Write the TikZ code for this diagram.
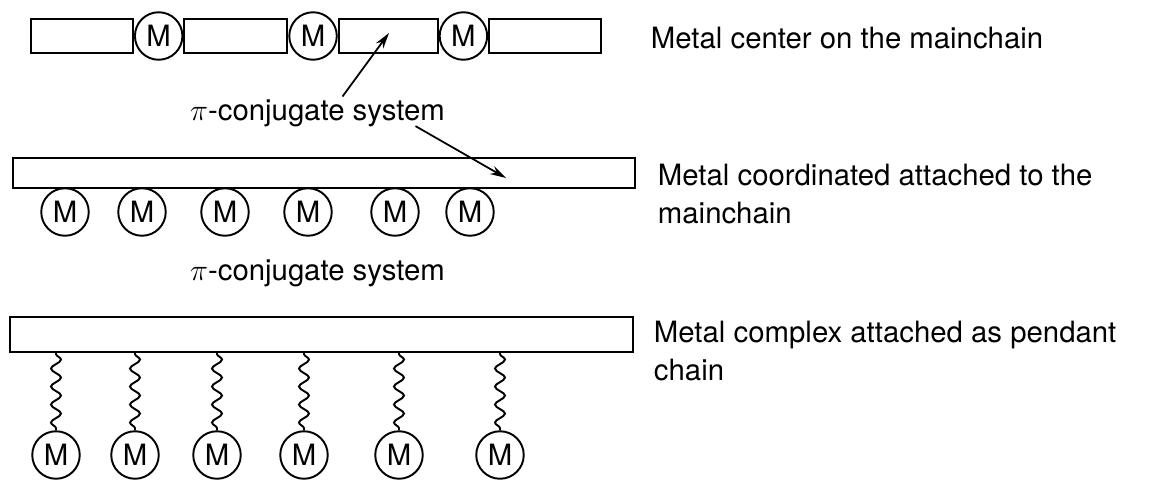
\documentclass[tikz,border=0pt]{standalone}
\usepackage{fontspec}
\setmainfont{TeX Gyre Heros}
\usetikzlibrary{positioning}
\usetikzlibrary{arrows.meta}
\usetikzlibrary{decorations.pathmorphing}

\begin{document}
\begin{tikzpicture}[line width=1.1pt,
    every node/.style={font=\fontsize{16.7}{21.6}\selectfont},
    seg/.style={draw, rectangle, minimum height=0.68cm, inner sep=0pt},
    bar/.style={draw, rectangle, inner sep=0pt},
    metal/.style={draw, circle, minimum size=0.95cm, inner sep=0pt},
    wavy/.style={decorate, decoration={snake, amplitude=0.1cm, segment length=0.36cm, pre length=0.02cm, post length=0.02cm}},
    remark/.style={anchor=north west, align=left, inner sep=0pt},
    pointer/.style={-{Stealth[length=3.2mm, width=1.8mm]}}]
      \useasboundingbox (0,0) rectangle (23.46,9.6);

      % metal in the main chain
      \node[seg, minimum width=2.04cm] (seg1) at (1.64,8.88) {};
      \node[metal, right=0pt of seg1] (mt1) {M};
      \node[seg, minimum width=2.06cm, right=0pt of mt1] (seg2) {};
      \node[metal, right=0pt of seg2] (mt2) {M};
      \node[seg, minimum width=1.98cm, right=0pt of mt2] (seg3) {};
      \node[metal, right=0pt of seg3] (mt3) {M};
      \node[seg, minimum width=2.24cm, right=0pt of mt3] (seg4) {};
      \node[remark] (lab1) at (13.0,9.07) {Metal center on the mainchain};

      \node[anchor=base, inner sep=1pt] (pi1) at (6.35,7.2) {$\pi$-conjugate system};
      \coordinate (tip1) at (7.78,8.94);
      \coordinate (tip2) at (10.12,6.04);
      \draw[pointer, line width=1pt] ([xshift=3.1cm]pi1.north west) -- (tip1);
      \draw[pointer, line width=1pt] ([xshift=-0.64cm,yshift=0.06cm]pi1.south east) -- (tip2);

      % metal next to the main chain
      \node[bar, minimum width=12.44cm, minimum height=0.6cm] (chain) at (6.48,6.14) {};
      \node[metal] (mc1) at (1.3,5.36) {M};
      \node[metal] (mc2) at (2.84,5.36) {M};
      \node[metal] (mc3) at (4.5,5.36) {M};
      \node[metal] (mc4) at (6.16,5.36) {M};
      \node[metal] (mc5) at (7.9,5.36) {M};
      \node[metal] (mc6) at (9.4,5.36) {M};
      \node[remark] (lab2) at (13.14,6.34) {Metal coordinated attached to the\\ mainchain};

      \node[anchor=base, inner sep=1pt] (pi2) at (6.35,4.0) {$\pi$-conjugate system};

      % pendant metal complexes
      \node[bar, minimum width=12.46cm, minimum height=0.7cm] (backbone) at (6.43,2.91) {};
      \node[metal] (mp1) at (1.12,0.5) {M};
      \node[metal] (mp2) at (2.7,0.5) {M};
      \node[metal] (mp3) at (4.34,0.5) {M};
      \node[metal] (mp4) at (6.08,0.5) {M};
      \node[metal] (mp5) at (7.98,0.5) {M};
      \node[metal] (mp6) at (10.0,0.5) {M};
      \draw[wavy] (mp1 |- backbone.south) -- (mp1.north);
      \draw[wavy] (mp2 |- backbone.south) -- (mp2.north);
      \draw[wavy] (mp3 |- backbone.south) -- (mp3.north);
      \draw[wavy] (mp4 |- backbone.south) -- (mp4.north);
      \draw[wavy] (mp5 |- backbone.south) -- (mp5.north);
      \draw[wavy] (mp6 |- backbone.south) -- (mp6.north);
      \node[remark] (lab3) at (13.06,3.2) {Metal complex attached as pendant\\ chain};
    \end{tikzpicture}
\end{document}
